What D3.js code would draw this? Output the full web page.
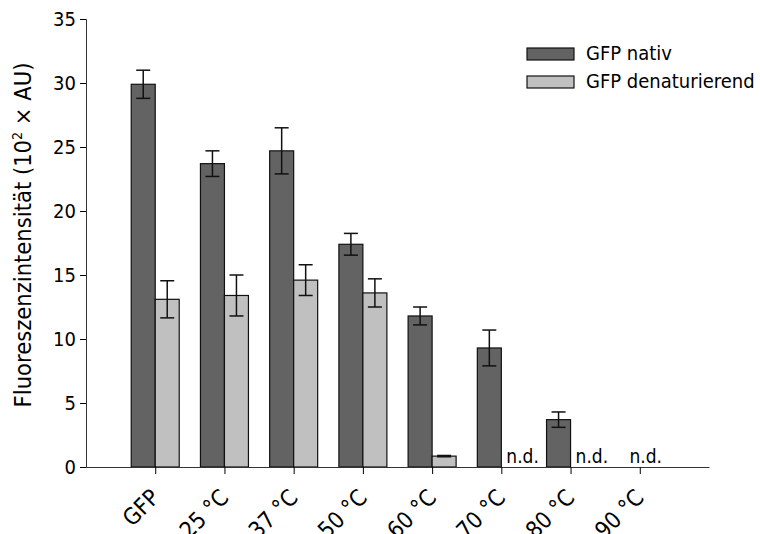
<!DOCTYPE html>
<html>
<head>
<meta charset="utf-8">
<script src="https://cdn.jsdelivr.net/npm/d3@7"></script>
<style>
  body { margin: 0; background: #fff; }
  text { font-family: "DejaVu Sans Condensed", "DejaVu Sans", sans-serif; fill: #000; }
</style>
</head>
<body>
<div id="chart"></div>
<script>
var categories = ["GFP", "25 °C", "37 °C", "50 °C", "60 °C", "70 °C", "80 °C", "90 °C"]
var nativ      = [29.9, 23.7, 24.7, 17.4, 11.8, 9.3, 3.7, null]
var nativErr   = [1.1, 1.0, 1.8, 0.85, 0.7, 1.4, 0.6, null]
var denat      = [13.1, 13.4, 14.6, 13.6, 0.85, null, null, null]
var denatErr   = [1.45, 1.6, 1.2, 1.1, 0.05, null, null, null]
var seriesNames = ["GFP nativ", "GFP denaturierend"]
var seriesColors = ["#636363", "#c0c0c0"]
var yTicks = [0, 5, 10, 15, 20, 25, 30, 35]

var width = 760, height = 534
var svg = d3.select("#chart").append("svg")
            .attr("width", width)
            .attr("height", height)

var x = d3.scalePoint().domain(categories).range([86, 709]).padding(1)
var y = d3.scaleLinear().domain([0, 35]).range([467, 19])
var barW = 24

// y axis
var yAxis = svg.append("g")
               .attr("transform", "translate(86,0)")
               .call(d3.axisLeft(y).tickValues(yTicks).tickSize(6).tickPadding(4))
yAxis.selectAll("text").style("font-size", "20px")
yAxis.select(".domain").attr("stroke", "#333")

// bars
var series = [
    { name: seriesNames[0], vals: nativ, errs: nativErr, color: seriesColors[0], off: -barW },
    { name: seriesNames[1], vals: denat, errs: denatErr, color: seriesColors[1], off: 0 }
]

series.forEach(function (s) {
    var data = categories.map(function (c, i) {
        return { cat: c, v: s.vals[i], e: s.errs[i] }
    }).filter(function (d) { return d.v !== null })

    svg.append("g").selectAll("rect")
       .data(data)
       .enter().append("rect")
       .attr("x", function (d) { return x(d.cat) + s.off })
       .attr("y", function (d) { return y(d.v) })
       .attr("width", barW)
       .attr("height", function (d) { return y(0) - y(d.v) })
       .attr("fill", s.color)
       .attr("stroke", "#111")
       .attr("stroke-width", 1.2)

    var eb = svg.append("g").selectAll("g")
                .data(data)
                .enter().append("g")
                .attr("stroke", "#111")
                .attr("stroke-width", 1.5)
    eb.append("line")
      .attr("x1", function (d) { return x(d.cat) + s.off + barW / 2 })
      .attr("x2", function (d) { return x(d.cat) + s.off + barW / 2 })
      .attr("y1", function (d) { return y(d.v + d.e) })
      .attr("y2", function (d) { return y(d.v - d.e) })
    ;[1, -1].forEach(function (sign) {
        eb.append("line")
          .attr("x1", function (d) { return x(d.cat) + s.off + barW / 2 - 7 })
          .attr("x2", function (d) { return x(d.cat) + s.off + barW / 2 + 7 })
          .attr("y1", function (d) { return y(d.v + sign * d.e) })
          .attr("y2", function (d) { return y(d.v + sign * d.e) })
    })
})

// x axis
var xAxis = svg.append("g")
               .attr("transform", "translate(0,467)")
               .call(d3.axisBottom(x).tickSize(7).tickSizeOuter(0))
xAxis.select(".domain").attr("stroke", "#333")
xAxis.selectAll("text")
     .style("font-size", "23px")
     .attr("text-anchor", "end")
     .attr("dy", null)
     .attr("y", 0)
     .attr("transform", "translate(5,32) rotate(-45)")

// n.d. labels
var nd = [
    { cat: "70 °C", dx: 5, anchor: "start" },
    { cat: "80 °C", dx: 5, anchor: "start" },
    { cat: "90 °C", dx: 6, anchor: "middle" }
]
svg.append("g").selectAll("text")
   .data(nd)
   .enter().append("text")
   .attr("x", function (d) { return x(d.cat) + d.dx })
   .attr("y", 463)
   .attr("text-anchor", function (d) { return d.anchor })
   .style("font-size", "19px")
   .text("n.d.")

// y title
svg.append("text")
   .attr("transform", "translate(31,235) rotate(-90)")
   .attr("text-anchor", "middle")
   .style("font-size", "23.5px")
   .html("Fluoreszenzintensität (10<tspan dy='-9' font-size='14px'>2</tspan><tspan dy='9'> × AU)</tspan>")

// legend
var legend = svg.selectAll(".legend")
                .data(series)
                .enter().append("g")
                .attr("class", "legend")
                .attr("transform", function (d, i) {
                    return "translate(527," + (48 + i * 28) + ")"
                })
legend.append("rect")
      .attr("width", 47)
      .attr("height", 12)
      .attr("fill", function (d) { return d.color })
      .attr("stroke", "#111")
      .attr("stroke-width", 1.2)
legend.append("text")
      .attr("x", 59)
      .attr("y", 12)
      .style("font-size", "20px")
      .text(function (d) { return d.name })
</script>
</body>
</html>
